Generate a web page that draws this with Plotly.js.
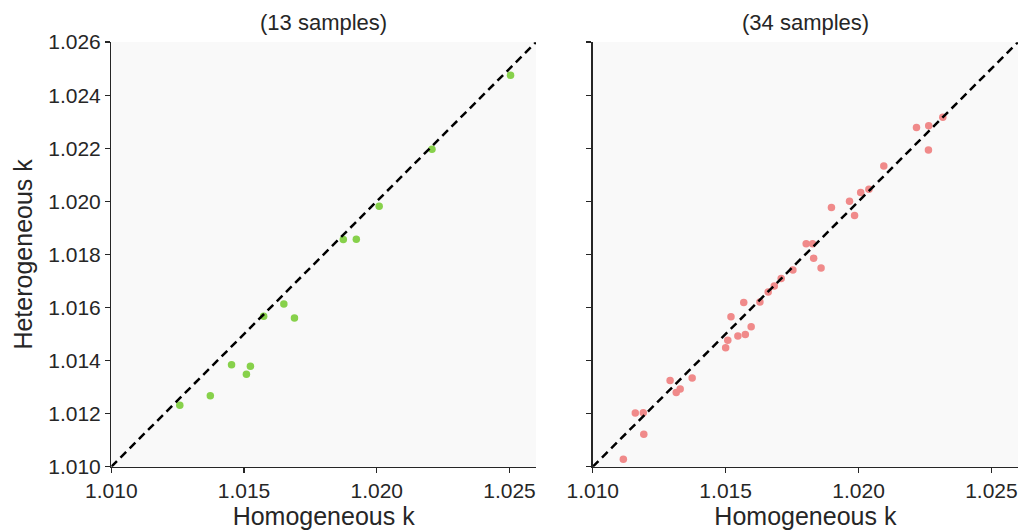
<!DOCTYPE html>
<html>
<head>
<meta charset="utf-8">
<script src="https://cdn.plot.ly/plotly-3.0.1.min.js"></script>
<style>html,body{margin:0;padding:0;background:#fff;}#chart{width:1022px;height:530px;}</style>
</head>
<body>
<div id="chart"></div>
<script>
// Left panel: 13 samples
const leftHomogeneous = [1.02504, 1.02208, 1.02009, 1.01874, 1.01923, 1.01574, 1.01650, 1.01690, 1.01453, 1.01524, 1.01509, 1.01373, 1.01258];
const leftHeterogeneous = [1.02475, 1.02196, 1.01982, 1.01856, 1.01857, 1.01567, 1.01613, 1.01560, 1.01384, 1.01379, 1.01348, 1.01267, 1.01232];

// Right panel: 34 samples
const rightHomogeneous = [1.02317, 1.02264, 1.02218, 1.02263, 1.02095, 1.02039, 1.02008, 1.01966, 1.01985, 1.01898,
  1.01803, 1.01827, 1.01831, 1.01859, 1.01753, 1.01709, 1.01683, 1.01660, 1.01629, 1.01568,
  1.01520, 1.01596, 1.01574, 1.01546, 1.01508, 1.01500, 1.01374, 1.01291, 1.01329, 1.01314,
  1.01160, 1.01190, 1.01192, 1.01115];
const rightHeterogeneous = [1.02317, 1.02285, 1.02278, 1.02194, 1.02133, 1.02046, 1.02033, 1.02000, 1.01947, 1.01977,
  1.01840, 1.01840, 1.01786, 1.01749, 1.01741, 1.01709, 1.01681, 1.01658, 1.01621, 1.01619,
  1.01565, 1.01527, 1.01498, 1.01493, 1.01477, 1.01448, 1.01334, 1.01325, 1.01293, 1.01280,
  1.01202, 1.01203, 1.01122, 1.01028];

const panelTitles = ["(13 samples)", "(34 samples)"];
const axisRange = [1.010, 1.026];
const xTickValues = [1.010, 1.015, 1.020, 1.025];
const xTickLabels = ["1.010", "1.015", "1.020", "1.025"];
const yTickValues = [1.010, 1.012, 1.014, 1.016, 1.018, 1.020, 1.022, 1.024, 1.026];
const yTickLabels = ["1.010", "1.012", "1.014", "1.016", "1.018", "1.020", "1.022", "1.024", "1.026"];

const FONT = "Liberation Sans, Arial, sans-serif";
const TXT = "#262626";

const traces = [
  {x: leftHomogeneous, y: leftHeterogeneous, type: "scatter", mode: "markers", xaxis: "x", yaxis: "y",
   marker: {color: "#87d14b", size: 7.5}, hoverinfo: "x+y", showlegend: false},
  {x: axisRange, y: axisRange, type: "scatter", mode: "lines", xaxis: "x", yaxis: "y",
   line: {color: "#000", width: 2.5, dash: "8px,5px"}, showlegend: false, hoverinfo: "skip"},
  {x: rightHomogeneous, y: rightHeterogeneous, type: "scatter", mode: "markers", xaxis: "x2", yaxis: "y2",
   marker: {color: "#f08a8a", size: 7.5}, hoverinfo: "x+y", showlegend: false},
  {x: axisRange, y: axisRange, type: "scatter", mode: "lines", xaxis: "x2", yaxis: "y2",
   line: {color: "#000", width: 2.5, dash: "8px,5px"}, showlegend: false, hoverinfo: "skip"}
];

function xAxis(domain, anchor) {
  return {
    domain: domain, anchor: anchor, range: axisRange, tickvals: xTickValues, ticktext: xTickLabels,
    showgrid: false, zeroline: false, showline: true, linecolor: "#262626", linewidth: 1.3,
    ticks: "outside", ticklen: 5, tickwidth: 1.3, tickcolor: "#262626",
    tickfont: {family: FONT, size: 21, color: TXT},
    title: {text: "Homogeneous k", font: {family: FONT, size: 25, color: TXT}, standoff: 4}
  };
}

function yAxis(domain, anchor, labels) {
  return {
    domain: domain, anchor: anchor, range: axisRange, tickvals: yTickValues, ticktext: yTickLabels,
    showticklabels: labels,
    showgrid: false, zeroline: false, showline: true, linecolor: "#262626", linewidth: 1.3,
    ticks: "outside", ticklen: 5, tickwidth: 1.3, tickcolor: "#262626",
    tickfont: {family: FONT, size: 21, color: TXT},
    title: labels ? {text: "Heterogeneous k", font: {family: FONT, size: 25, color: TXT}, standoff: 8} : {text: ""}
  };
}

const yDom = [0.1194, 0.9205];
const layout = {
  width: 1022, height: 530,
  margin: {l: 0, r: 0, t: 0, b: 0},
  paper_bgcolor: "#ffffff",
  plot_bgcolor: "#f9f9f9",
  font: {family: FONT, color: TXT},
  showlegend: false,
  xaxis: xAxis([0.1089, 0.5245], "y"),
  yaxis: yAxis(yDom, "x", true),
  xaxis2: xAxis([0.5800, 0.9961], "y2"),
  yaxis2: yAxis(yDom, "x2", false),
  annotations: [
    {text: panelTitles[0], xref: "x domain", yref: "paper", x: 0.5, y: 1 - 23/530, xanchor: "center", yanchor: "middle",
     showarrow: false, font: {family: FONT, size: 22, color: TXT}},
    {text: panelTitles[1], xref: "x2 domain", yref: "paper", x: 0.5, y: 1 - 23/530, xanchor: "center", yanchor: "middle",
     showarrow: false, font: {family: FONT, size: 22, color: TXT}}
  ]
};

Plotly.newPlot("chart", traces, layout, {displayModeBar: false, staticPlot: true});
</script>
</body>
</html>
